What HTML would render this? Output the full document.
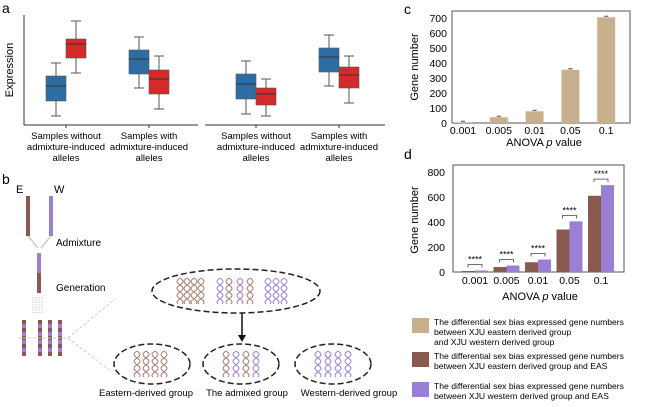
<!DOCTYPE html>
<html><head><meta charset="utf-8"><style>
body{margin:0;background:#fff}
svg{display:block;font-family:"Liberation Sans",Arial,sans-serif}
</style></head><body>
<svg id="fig" width="654" height="407" viewBox="0 0 654 407">
<g>
<text x="2" y="13" font-size="14">a</text>
<line x1="24" y1="15" x2="24" y2="125" stroke="#333"/>
<line x1="24" y1="125" x2="198" y2="125" stroke="#333"/>
<line x1="205" y1="125" x2="385" y2="125" stroke="#333"/>
<text transform="translate(13,70) rotate(-90)" text-anchor="middle" font-size="11">Expression</text>
<g id="boxes"></g>
<g id="alabels" font-size="9.5" text-anchor="middle"></g>
</g>
<g>
<text x="2" y="184" font-size="14">b</text>
<text x="16" y="193" font-size="11">E</text>
<text x="54" y="193" font-size="11">W</text>
<rect x="26" y="196" width="4" height="40" fill="#8a5a50"/>
<rect x="49" y="196" width="4" height="40" fill="#9b7fd4"/>
<line x1="28" y1="236" x2="38" y2="248" stroke="#ccc" stroke-width="1.5"/>
<line x1="51" y1="236" x2="41" y2="248" stroke="#ccc" stroke-width="1.5"/>
<text x="56" y="246" font-size="10">Admixture</text>
<rect x="37" y="253" width="4" height="20" fill="#9b7fd4"/>
<rect x="37" y="273" width="4" height="20" fill="#8a5a50"/>
<text x="56" y="291" font-size="10">Generation</text>
<g stroke="#bbb" stroke-dasharray="1,1.5">
<line x1="33" y1="297" x2="33" y2="313"/><line x1="36" y1="297" x2="36" y2="313"/><line x1="39" y1="297" x2="39" y2="313"/><line x1="42" y1="297" x2="42" y2="313"/>
</g>
<g id="chroms"></g>
<line x1="68" y1="338" x2="115" y2="299" stroke="#ccc" stroke-dasharray="3,2"/>
<line x1="68" y1="338" x2="112" y2="372" stroke="#ccc" stroke-dasharray="3,2"/>
<g fill="none" stroke="#222" stroke-width="1.5" stroke-dasharray="6,3">
<ellipse cx="236" cy="291" rx="84" ry="22"/>
<ellipse cx="152" cy="364" rx="38" ry="20"/>
<ellipse cx="241" cy="364" rx="38" ry="20"/>
<ellipse cx="333" cy="364" rx="38" ry="20"/>
</g>
<line x1="242" y1="313" x2="242" y2="336" stroke="#111" stroke-width="1.5"/>
<polygon points="238,335 246,335 242,342" fill="#111"/>
<g id="dna"></g>
<g font-size="9.5" text-anchor="middle">
<text x="146" y="396">Eastern-derived group</text>
<text x="247" y="396">The admixed group</text>
<text x="349" y="396">Western-derived group</text>
</g>
</g>
<g>
<text x="404" y="14" font-size="14">c</text>
<rect x="452" y="11" width="178" height="112" fill="none" stroke="#555"/>
<text transform="translate(418,67) rotate(-90)" text-anchor="middle" font-size="11">Gene number</text>
<text x="544" y="146" text-anchor="middle" font-size="11">ANOVA <tspan font-style="italic">p</tspan> value</text>
<g id="cchart"></g>
</g>
<g>
<text x="404" y="159" font-size="14">d</text>
<rect x="453" y="165" width="171" height="107" fill="none" stroke="#555"/>
<text transform="translate(418,220) rotate(-90)" text-anchor="middle" font-size="11">Gene number</text>
<text x="540" y="300" text-anchor="middle" font-size="11">ANOVA <tspan font-style="italic">p</tspan> value</text>
<g id="dchart"></g>
</g>
<g font-size="8.6">
<rect x="412" y="318" width="17" height="15" fill="#c8b08f"/>
<text x="434" y="325"><tspan x="434">The differential sex bias expressed gene numbers</tspan><tspan x="434" dy="10">between XJU eastern derived group</tspan><tspan x="434" dy="10">and XJU western derived group</tspan></text>
<rect x="412" y="352" width="17" height="15" fill="#8a5a50"/>
<text x="434" y="359"><tspan x="434">The differential sex bias expressed gene numbers</tspan><tspan x="434" dy="10">between XJU eastern derived group and EAS</tspan></text>
<rect x="412" y="382" width="17" height="15" fill="#9b7fd4"/>
<text x="434" y="389"><tspan x="434">The differential sex bias expressed gene numbers</tspan><tspan x="434" dy="10">between XJU western derived group and EAS</tspan></text>
</g>
</svg>
<script>
const NS="http://www.w3.org/2000/svg";
function mk(parent,tag,attrs,text){const e=document.createElementNS(NS,tag);for(const k in attrs)e.setAttribute(k,attrs[k]);if(text!==undefined)e.textContent=text;parent.appendChild(e);return e;}

// Panel c data
const cCategories=["0.001","0.005","0.01","0.05","0.1"];
const cValues=[5,38,78,355,705];
const cTicks=[0,100,200,300,400,500,600,700];
// Panel d data
const dCategories=["0.001","0.005","0.01","0.05","0.1"];
const dEastEAS=[8,40,78,340,610];
const dWestEAS=[12,52,100,405,695];
const dTicks=[0,200,400,600,800];
// Panel a data (expression units, arbitrary): [whiskerLow,q1,median,q3,whiskerHigh]
const aGroups=["Samples without","Samples with","Samples without","Samples with"];
const aBlue=[[5,20,35,45,58],[33,47,62,71,84],[7,22,37,47,60],[35,49,64,73,86]];
const aRed=[[48,63,77,82,100],[12,27,42,51,65],[5,16,27,33,42],[18,33,46,54,65]];

const cy=v=>123-v*105/700, cx=i=>463+i*35.8;
const cg=document.getElementById('cchart');
cTicks.forEach(t=>{const e=mk(cg,'text',{x:447,y:cy(t)+4,'text-anchor':'end','font-size':10.5},t);

});
cCategories.forEach((c,i)=>{
const r=mk(cg,'rect',{x:cx(i)-9,y:cy(cValues[i]),width:18,height:123-cy(cValues[i]),fill:'#c8b08f'});


mk(cg,'line',{x1:cx(i)-2,x2:cx(i)+2,y1:cy(cValues[i])-1,y2:cy(cValues[i])-1,stroke:'#444'});
const t=mk(cg,'text',{x:cx(i),y:134,'text-anchor':'middle','font-size':10.5},c);

});

const dy=v=>272-v*100/800, dx=i=>475+i*31.5;
const dg=document.getElementById('dchart');
dTicks.forEach(t=>{const e=mk(dg,'text',{x:445,y:dy(t)+4,'text-anchor':'end','font-size':10.5},t);

});
dCategories.forEach((c,i)=>{
const a=mk(dg,'rect',{x:dx(i)-13,y:dy(dEastEAS[i]),width:13,height:272-dy(dEastEAS[i]),fill:'#8a5a50'});


const b=mk(dg,'rect',{x:dx(i),y:dy(dWestEAS[i]),width:13,height:272-dy(dWestEAS[i]),fill:'#9b7fd4'});


const top=dy(Math.max(dEastEAS[i],dWestEAS[i]))-6;
mk(dg,'path',{d:`M${dx(i)-7},${top+3}V${top}H${dx(i)+7}V${top+3}`,fill:'none',stroke:'#444','stroke-width':0.8});
const s=mk(dg,'text',{x:dx(i),y:top-2,'text-anchor':'middle','font-size':9},'****');


const t=mk(dg,'text',{x:dx(i),y:284,'text-anchor':'middle','font-size':10.5},c);

});

const ay=v=>121-v; const aCenters=[66,149,256,339];
const bg=document.getElementById('boxes');
function box(s,x,col,name){
const g=mk(bg,'g',{});


mk(g,'line',{x1:x+10,x2:x+10,y1:ay(s[0]),y2:ay(s[4]),stroke:'#555'});
mk(g,'line',{x1:x+5,x2:x+15,y1:ay(s[0]),y2:ay(s[0]),stroke:'#555'});
mk(g,'line',{x1:x+5,x2:x+15,y1:ay(s[4]),y2:ay(s[4]),stroke:'#555'});
mk(g,'rect',{x:x,y:ay(s[3]),width:20,height:ay(s[1])-ay(s[3]),fill:col,stroke:'#555','stroke-width':0.6});
mk(g,'line',{x1:x,x2:x+20,y1:ay(s[2]),y2:ay(s[2]),stroke:'#333'});}
const al=document.getElementById('alabels');
aGroups.forEach((g,i)=>{const c=aCenters[i];
box(aBlue[i],c-20,'#2e6da4','box-blue-'+i);
box(aRed[i],c,'#d42a2a','box-red-'+i);
mk(bg,'line',{x1:c,x2:c,y1:125,y2:128,stroke:'#333'});
const t=mk(al,'text',{x:c,y:139},'');


mk(t,'tspan',{x:c},g);mk(t,'tspan',{x:c,dy:11},'admixture-induced');mk(t,'tspan',{x:c,dy:11},'alleles');});

const ch=document.getElementById('chroms');
[22,38,48,58].forEach(x=>{for(let k=0;k<9;k++){mk(ch,'rect',{x:x,y:320+k*4,width:4,height:4,fill:k%2?'#9b7fd4':'#8a5a50'});}});
mk(ch,'line',{x1:18,x2:68,y1:338,y2:338,stroke:'#ccc','stroke-dasharray':'3,2'});
const dn=document.getElementById('dna');
function helix(x,y,col,h){const w=3;let d1='',d2='';for(let k=0;k<=h;k+=1){const s=Math.sin(k/2.2)*w;d1+=(k?'L':'M')+(x+s)+','+(y+k);d2+=(k?'L':'M')+(x-s)+','+(y+k);}
mk(dn,'path',{d:d1,fill:'none',stroke:col,'stroke-width':1});mk(dn,'path',{d:d2,fill:'none',stroke:col,'stroke-width':1});}
const B='#a77a6e',P='#9b7fd4';
[180,187,194,201].forEach(x=>helix(x,278,B,26));
[220,229,240,250].forEach((x,i)=>helix(x,278,i%2?B:P,26));
[268,276,284].forEach(x=>helix(x,278,P,26));
[137,146,155,164].forEach(x=>helix(x,351,B,26));
[226,236,246,256].forEach((x,i)=>helix(x,351,i%2?P:B,26));
[318,328,338,348].forEach(x=>helix(x,351,P,26));
</script>
</body></html>
